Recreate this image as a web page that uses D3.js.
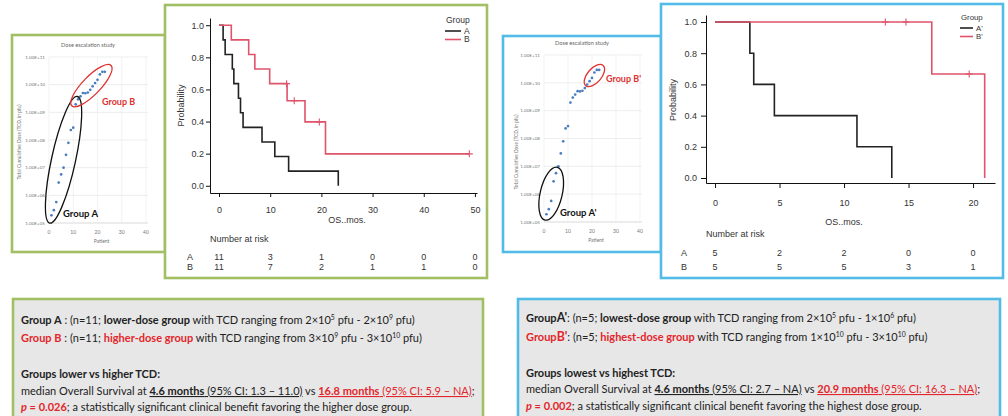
<!DOCTYPE html>
<html>
<head>
<meta charset="utf-8">
<script src="https://cdn.jsdelivr.net/npm/d3@7"></script>
<style>
  html, body { margin: 0; padding: 0; background: #fff; }
  svg { display: block; }
</style>
</head>
<body>
<svg id="fig" width="1008" height="416"></svg>
<script>
// Dose escalation scatter (same cohort in both panels)
const patients = [1, 2, 3, 4, 5, 6, 7, 8, 9, 10, 11, 12, 13, 14, 15, 16, 17, 18, 19, 20, 21, 22, 23];
const doses = [1.9e5, 2.9e5, 5.7e5, 2.9e6, 5.7e6, 1.0e7, 2.9e7, 7.9e7, 2.3e8, 2.8e8, 1.95e9,
  2.95e9, 3.8e9, 5.0e9, 4.9e9, 5.2e9, 6.5e9, 8.7e9, 1.15e10, 1.5e10, 2.35e10, 2.9e10, 2.9e10];
const doseTicks = [1e5, 1e6, 1e7, 1e8, 1e9, 1e10, 1e11];
const patientTicks = [0, 10, 20, 30, 40];

// Kaplan-Meier, lower vs higher TCD
const kmA_time = [0, 0.8, 1.2, 2.6, 2.9, 3.8, 4.2, 4.7, 8.4, 10.9, 13.6, 23.3];
const kmA_surv = [1, 0.909, 0.818, 0.727, 0.636, 0.545, 0.455, 0.364, 0.273, 0.182, 0.091, 0];
const kmB_time = [0, 2.4, 5.8, 7.0, 9.9, 13.3, 16.8, 20.8, 48.9];
const kmB_surv = [1, 0.909, 0.818, 0.727, 0.636, 0.530, 0.398, 0.199, 0.199];
const kmB_censTime = [13.2, 14.7, 19.6, 48.9];
const kmB_censSurv = [0.636, 0.530, 0.398, 0.199];
const risk1_times = [0, 10, 20, 30, 40, 50];
const risk1_A = [11, 3, 1, 0, 0, 0];
const risk1_B = [11, 7, 2, 1, 1, 0];

// Kaplan-Meier, lowest vs highest TCD
const kmA2_time = [0, 2.7, 3.0, 4.6, 11.0, 13.7];
const kmA2_surv = [1, 0.8, 0.6, 0.4, 0.2, 0];
const kmB2_time = [0, 16.8, 20.9];
const kmB2_surv = [1, 0.667, 0];
const kmB2_censTime = [13.2, 14.8, 19.7];
const kmB2_censSurv = [1, 1, 0.667];
const risk2_times = [0, 5, 10, 15, 20];
const risk2_A = [5, 2, 2, 0, 0];
const risk2_B = [5, 5, 5, 3, 1];

const probTicks = [0, 0.2, 0.4, 0.6, 0.8, 1.0];

// summary boxes
const box1_lines = [
  [{t: "Group A", b: 1}, {t: " : (n=11; "}, {t: "lower-dose group", b: 1}, {t: " with TCD ranging from 2×10"}, {t: "5", sup: 1}, {t: " pfu - 2×10"}, {t: "9", sup: 1}, {t: " pfu)"}],
  [{t: "Group B", b: 1, r: 1}, {t: " : (n=11; "}, {t: "higher-dose group", b: 1, r: 1}, {t: " with TCD ranging from 3×10"}, {t: "9", sup: 1}, {t: " pfu - 3×10"}, {t: "10", sup: 1}, {t: " pfu)"}],
  [],
  [{t: "Groups lower vs higher TCD:", b: 1}],
  [{t: "median Overall Survival at "}, {t: "4.6 months", b: 1, u: 1}, {t: " (95% CI: 1.3 – 11.0)", u: 1}, {t: " vs "}, {t: "16.8 months", b: 1, r: 1, u: 1}, {t: " (95% CI: 5.9 – NA)", r: 1, u: 1}, {t: ";"}],
  [{t: "p", b: 1, r: 1, i: 1}, {t: " = 0.026", b: 1, r: 1}, {t: "; a statistically significant clinical benefit favoring the higher dose group."}],
];
const box2_lines = [
  [{t: "Group", b: 1}, {t: "A'", b: 1, big: 1}, {t: ": (n=5; "}, {t: "lowest-dose group", b: 1}, {t: " with TCD ranging from 2×10"}, {t: "5", sup: 1}, {t: " pfu - 1×10"}, {t: "6", sup: 1}, {t: " pfu)"}],
  [{t: "Group", b: 1, r: 1}, {t: "B'", b: 1, r: 1, big: 1}, {t: ": (n=5; "}, {t: "highest-dose group", b: 1, r: 1}, {t: " with TCD ranging from 1×10"}, {t: "10", sup: 1}, {t: " pfu - 3×10"}, {t: "10", sup: 1}, {t: " pfu)"}],
  [],
  [{t: "Groups lowest vs highest TCD:", b: 1}],
  [{t: "median Overall Survival at "}, {t: "4.6 months", b: 1, u: 1}, {t: " (95% CI: 2.7 – NA)", u: 1}, {t: " vs "}, {t: "20.9 months", b: 1, r: 1, u: 1}, {t: " (95% CI: 16.3 – NA)", r: 1, u: 1}, {t: ";"}],
  [{t: "p", b: 1, r: 1, i: 1}, {t: " = 0.002", b: 1, r: 1}, {t: "; a statistically significant clinical benefit favoring the highest dose group."}],
];

const green = "#a2c063";
const blue = "#52bbe6";
const kmRed = "#df536b";
const txtRed = "#e3262b";
const ink = "#222";

const svg = d3.select("#fig");
svg.append("rect").attr("width", 1008).attr("height", 416).attr("fill", "#fff");

function frame(x, y, w, h, color, fill) {
  svg.append("rect").attr("x", x).attr("y", y).attr("width", w).attr("height", h)
    .attr("fill", fill || "#fff").attr("stroke", color).attr("stroke-width", 2.6);
}

function drawScatter(cfg) {
  const g = svg.append("g").attr("font-family", "Lato, 'Open Sans', sans-serif");
  const x = d3.scaleLinear().domain([0, 40]).range([cfg.left, cfg.right]);
  const y = d3.scaleLog().domain([1e5, 1e11]).range([cfg.bottom, cfg.top]);

  g.append("text").attr("x", cfg.titleX).attr("y", cfg.top - 10).attr("text-anchor", "middle")
    .attr("font-size", 5.6).attr("fill", "#666").text("Dose escalation study");

  g.selectAll(".hg").data(doseTicks).join("line")
    .attr("x1", x(0)).attr("x2", x(40) + 2).attr("y1", (d) => y(d)).attr("y2", (d) => y(d))
    .attr("stroke", (d) => (d === 1e5 ? "#c8c8c8" : "#e6e6e6")).attr("stroke-width", 0.7);
  g.selectAll(".vg").data(patientTicks).join("line")
    .attr("x1", (d) => x(d)).attr("x2", (d) => x(d)).attr("y1", y(1e11)).attr("y2", y(1e5))
    .attr("stroke", "#ececec").attr("stroke-width", 0.7);

  g.selectAll(".yl").data(doseTicks).join("text")
    .attr("x", x(0) - 4).attr("y", (d) => y(d) + 1.8).attr("text-anchor", "end")
    .attr("font-size", 4.6).attr("fill", "#777")
    .text((d) => "1.00E+" + String(Math.round(Math.log10(d))).padStart(2, "0"));
  g.selectAll(".xl").data(patientTicks).join("text")
    .attr("x", (d) => x(d)).attr("y", y(1e5) + 11).attr("text-anchor", "middle")
    .attr("font-size", 5).attr("fill", "#777").text((d) => d);
  g.append("text").attr("x", (x(0) + x(40)) / 2 + 4).attr("y", y(1e5) + 20).attr("text-anchor", "middle")
    .attr("font-size", 5).attr("fill", "#777").text("Patient");
  g.append("text").attr("transform", `translate(${cfg.ytX},${cfg.ytY}) rotate(-90)`)
    .attr("text-anchor", "middle").attr("font-size", 4.8).attr("fill", "#777")
    .text("Total Cumulative Dose (TCD, in pfu)");

  g.selectAll("circle").data(patients).join("circle")
    .attr("cx", (p) => x(p)).attr("cy", (p, i) => y(doses[i])).attr("r", 1.35).attr("fill", "#4a7cc0");

  cfg.groups.forEach((gr) => {
    const ax = x(patients[gr.from]), ay = y(doses[gr.from]);
    const bx = x(patients[gr.to]), by = y(doses[gr.to]);
    const cx = (ax + bx) / 2, cy = (ay + by) / 2;
    const len = Math.hypot(bx - ax, by - ay);
    const ang = (Math.atan2(by - ay, bx - ax) * 180) / Math.PI;
    g.append("ellipse").attr("rx", len / 2 + gr.pad).attr("ry", gr.ry)
      .attr("transform", `translate(${cx},${cy}) rotate(${ang})`)
      .attr("fill", "none").attr("stroke", gr.color).attr("stroke-width", 1.3);
    g.append("text").attr("x", gr.lx).attr("y", gr.ly).attr("font-size", gr.fs)
      .attr("font-weight", 700).attr("fill", gr.color).text(gr.label);
  });
}

function drawKM(cfg) {
  const g = svg.append("g").attr("font-family", "'Liberation Sans', Arial, sans-serif");
  const x = d3.scaleLinear().domain(cfg.xDom).range(cfg.xRange);
  const y = d3.scaleLinear().domain(cfg.yDom).range(cfg.yRange);
  const axisY = cfg.yRange[0];

  const xa = g.append("g").attr("transform", `translate(0,${axisY})`)
    .call(d3.axisBottom(x).tickValues(cfg.riskTimes).tickSize(cfg.tick).tickSizeOuter(0).tickPadding(cfg.xPad));
  const ya = g.append("g").attr("transform", `translate(${cfg.xRange[0]},0)`)
    .call(d3.axisLeft(y).tickValues(probTicks).tickFormat(d3.format(".1f")).tickSize(cfg.tick).tickSizeOuter(0).tickPadding(cfg.yPad));
  [xa, ya].forEach((a) => {
    a.attr("font-family", null).attr("font-size", null);
    a.selectAll("path,line").attr("stroke", "#111").attr("stroke-width", 1);
    a.selectAll("text").attr("font-size", 9).attr("fill", "#333");
  });

  g.append("text").attr("x", (x(cfg.riskTimes[0]) + x(cfg.riskTimes[cfg.riskTimes.length - 1])) / 2)
    .attr("y", cfg.xLabY).attr("text-anchor", "middle").attr("font-size", 9).attr("fill", "#333").text("OS..mos.");
  g.append("text").attr("transform", `translate(${cfg.yLabX},${(y(0) + y(1)) / 2}) rotate(-90)`)
    .attr("text-anchor", "middle").attr("font-size", 9).attr("fill", "#333").text("Probability");

  const line = d3.line().x((d) => x(d[0])).y((d) => y(d[1])).curve(d3.curveStepAfter);
  cfg.curves.forEach((c) => {
    g.append("path").datum(c.t.map((t, i) => [t, c.s[i]])).attr("d", line)
      .attr("fill", "none").attr("stroke", c.color).attr("stroke-width", 1.6);
    if (c.ct) {
      g.selectAll(null).data(c.ct).join("path")
        .attr("d", (t, i) => `M${x(t)},${y(c.cs[i]) - 3.5}v7M${x(t) - 3.5},${y(c.cs[i])}h7`)
        .attr("stroke", c.color).attr("stroke-width", 1.1);
    }
  });

  // legend
  const lg = g.append("g").attr("transform", `translate(${cfg.legX},${cfg.legY})`);
  lg.append("text").attr("x", 1).attr("y", 3).attr("font-size", cfg.legFs).attr("fill", "#333").text("Group");
  cfg.curves.forEach((c, i) => {
    const yy = 11 + i * cfg.legStep;
    lg.append("line").attr("x1", 0).attr("x2", cfg.legW).attr("y1", yy).attr("y2", yy)
      .attr("stroke", c.color).attr("stroke-width", 1.6);
    lg.append("text").attr("x", cfg.legW + 3).attr("y", yy + 2.8).attr("font-size", cfg.legFs).attr("fill", "#333").text(c.name);
  });

  // number at risk
  g.append("text").attr("x", cfg.xRange[0]).attr("y", cfg.riskTitleY).attr("font-size", 9)
    .attr("fill", "#333").text("Number at risk");
  cfg.riskRows.forEach((row, r) => {
    const ry = cfg.riskRowY[r];
    g.append("text").attr("x", cfg.riskLabX).attr("y", ry).attr("text-anchor", "middle")
      .attr("font-size", 9).attr("fill", "#333").text(row.label);
    g.selectAll(null).data(row.vals).join("text")
      .attr("x", (d, i) => x(cfg.riskTimes[i])).attr("y", ry).attr("text-anchor", "middle")
      .attr("font-size", 9).attr("fill", "#333").text((d) => d);
  });
}

function drawBox(x, yTop, w, color, lines, baselines) {
  frame(x, yTop, w, 140, color, "#e7e7e7");
  const fs = 11;
  lines.forEach((segs, li) => {
    if (!segs.length) return;
    const t = svg.append("text").attr("x", x + 8).attr("y", baselines[li])
      .attr("font-family", "Lato, 'Open Sans', sans-serif").attr("font-size", fs).attr("fill", ink);
    segs.forEach((s) => {
      const sp = t.append("tspan").text(s.t);
      if (s.sup) {
        sp.attr("font-size", fs * 0.62).attr("baseline-shift", "super");
        return;
      }
      if (s.b) sp.attr("font-weight", 700);
      if (s.r) sp.attr("fill", txtRed);
      if (s.u) sp.attr("text-decoration", "underline");
      if (s.i) sp.attr("font-style", "italic");
      if (s.big) sp.attr("font-size", fs * 1.12);
    });
  });
}

// panel frames (scatter first, KM panels overlap their edge)
frame(12, 35, 153, 217, green);
frame(503, 36, 158, 216, blue);
frame(165, 5, 322, 273, green);
frame(661, 4, 342, 274, blue);

drawScatter({
  left: 49, right: 146, top: 57, bottom: 223, titleX: 88, ytX: 21, ytY: 142,
  groups: [
    {from: 0, to: 10, pad: 8, ry: 12, color: "#111", label: "Group A", lx: 63, ly: 217, fs: 9.5},
    {from: 11, to: 22, pad: 9, ry: 9, color: "#e0302f", label: "Group B", lx: 102, ly: 105, fs: 9},
  ],
});
drawScatter({
  left: 544, right: 640, top: 55, bottom: 222, titleX: 582, ytX: 518, ytY: 152,
  groups: [
    {from: 0, to: 4, pad: 6, ry: 11, color: "#111", label: "Group A'", lx: 560, ly: 216, fs: 9.5},
    {from: 18, to: 22, pad: 6, ry: 7, color: "#e0302f", label: "Group B'", lx: 606, ly: 82, fs: 9},
  ],
});

drawKM({
  xDom: [-1.76, 50.4], xRange: [210, 477], yDom: [-0.045, 1.045], yRange: [193, 18],
  tick: 4, xPad: 10, yPad: 2, xLabY: 223, yLabX: 184,
  curves: [
    {t: kmA_time, s: kmA_surv, color: "#222", name: "A"},
    {t: kmB_time, s: kmB_surv, ct: kmB_censTime, cs: kmB_censSurv, color: kmRed, name: "B"},
  ],
  legX: 445, legY: 20, legW: 16, legStep: 8.5, legFs: 8.5,
  riskTimes: risk1_times, riskTitleY: 242, riskRowY: [260, 270], riskLabX: 190,
  riskRows: [{label: "A", vals: risk1_A}, {label: "B", vals: risk1_B}],
});
drawKM({
  xDom: [-0.7, 21.7], xRange: [706, 995], yDom: [-0.032, 1.045], yRange: [183, 15],
  tick: 5, xPad: 12, yPad: 4, xLabY: 225, yLabX: 676,
  curves: [
    {t: kmA2_time, s: kmA2_surv, color: "#222", name: "A'"},
    {t: kmB2_time, s: kmB2_surv, ct: kmB2_censTime, cs: kmB2_censSurv, color: kmRed, name: "B'"},
  ],
  legX: 960, legY: 17, legW: 13, legStep: 8.5, legFs: 7.8,
  riskTimes: risk2_times, riskTitleY: 237, riskRowY: [256, 270], riskLabX: 684,
  riskRows: [{label: "A", vals: risk2_A}, {label: "B", vals: risk2_B}],
});

drawBox(13, 299, 470, green, box1_lines, [324, 342, 0, 378, 395, 411]);
drawBox(518, 299, 482, blue, box2_lines, [322, 341, 0, 377, 393, 410]);
</script>
</body>
</html>
